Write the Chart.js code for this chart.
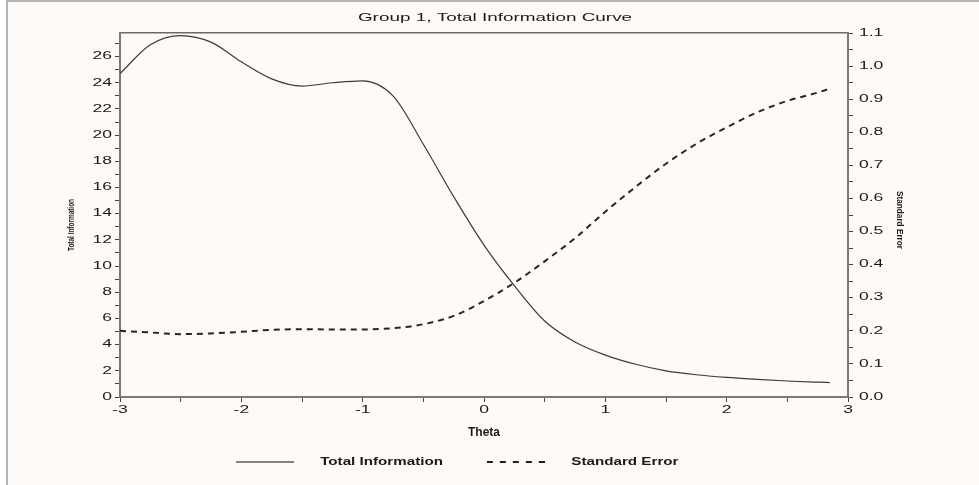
<!DOCTYPE html>
<html>
<head>
<meta charset="utf-8">
<script src="https://cdn.jsdelivr.net/npm/chart.js@4/dist/chart.umd.min.js"></script>
<style>
  html, body { margin: 0; padding: 0; background: #ffffff; }
  canvas { display: block; }
</style>
</head>
<body>
<canvas id="myChart" width="979" height="485"></canvas>
<script>
// Data
const theta = [-3, -2.75, -2.5, -2.25, -2, -1.75, -1.5, -1.25, -1, -0.75, -0.5, -0.25,
               0, 0.25, 0.5, 0.75, 1, 1.25, 1.5, 1.75, 2, 2.25, 2.5, 2.75, 2.85];
const totalInfo = [24.7, 26.9, 27.6, 27.1, 25.6, 24.3, 23.75, 24.0, 24.15, 23.0, 19.3, 15.3,
                   11.6, 8.5, 5.8, 4.2, 3.2, 2.5, 2.0, 1.7, 1.5, 1.35, 1.22, 1.13, 1.1];
const stdError = [0.200, 0.195, 0.190, 0.192, 0.197, 0.203, 0.205, 0.204, 0.204, 0.208, 0.220, 0.245,
                  0.290, 0.345, 0.410, 0.480, 0.560, 0.635, 0.705, 0.765, 0.815, 0.860, 0.895, 0.920, 0.932];
const seriesNames = ['Total Information', 'Standard Error'];
const chartTitle = 'Group 1, Total Information Curve';
const xTitle = 'Theta';
const xTicks = [-3, -2, -1, 0, 1, 2, 3];

// the original text is drawn wide, stretch glyphs per font size
const textStretch = { '10': 1.75, '10.5': 1.8, '11': 1.38, '12': 1 };

var chartArea = document.getElementById('myChart');
const ctx = chartArea.getContext('2d');
const rawFill = ctx.fillText.bind(ctx);
const rawMeasure = ctx.measureText.bind(ctx);
function stretchOf() {
    const m = /([\d.]+)px/.exec(ctx.font);
    return (m && textStretch[m[1]]) || 1;
}
ctx.fillText = function (text, x, y) {
    const sx = stretchOf();
    ctx.save();
    ctx.translate(x, y);
    ctx.scale(sx, 1);
    rawFill(text, 0, 0);
    ctx.restore();
};
ctx.measureText = function (text) {
    const m = rawMeasure(text);
    return {
        width: m.width * stretchOf(),
        actualBoundingBoxAscent: m.actualBoundingBoxAscent,
        actualBoundingBoxDescent: m.actualBoundingBoxDescent
    };
};

// legend line samples (Chart.js point-style legend ignores dashes)
function legendSample(dash, width, color) {
    const c = document.createElement('canvas');
    c.width = 58;
    c.height = 4;
    const g = c.getContext('2d');
    g.strokeStyle = color;
    g.lineWidth = width;
    g.setLineDash(dash);
    g.beginPath();
    g.moveTo(0, 2);
    g.lineTo(58, 2);
    g.stroke();
    return c;
}
const legendSamples = [legendSample([], 1.6, '#5a5a5a'), legendSample([6, 7], 2.2, '#1e1e1e')];

// legend labels get extra spaces so the gaps match the picture
const legendText = [
    '     ' + seriesNames[0] + '        ',
    '     ' + seriesNames[1] + '                  '
];

const pageDecor = {
    id: 'pageDecor',
    beforeDraw(chart) {
        const c = chart.ctx;
        c.save();
        c.fillStyle = '#ffffff';
        c.fillRect(0, 0, chart.width, chart.height);
        c.fillStyle = '#fdfaf8';
        c.fillRect(8, 2, chart.width - 8, chart.height - 2);
        c.strokeStyle = '#b4b4b4';
        c.lineWidth = 2;
        c.beginPath();
        c.moveTo(7, chart.height);
        c.lineTo(7, 1);
        c.lineTo(chart.width, 1);
        c.stroke();
        c.restore();
    },
    afterDraw(chart) {
        // the squeezed, rotated axis titles
        const c = chart.ctx;
        c.save();
        c.fillStyle = '#1a1a1a';
        c.font = 'bold 9px "Liberation Sans"';
        c.textAlign = 'center';
        c.textBaseline = 'middle';
        c.translate(71.5, 225);
        c.rotate(-Math.PI / 2);
        rawFill(seriesNames[0], 0, 0, 52);
        c.restore();
        c.save();
        c.fillStyle = '#1a1a1a';
        c.font = 'bold 9px "Liberation Sans"';
        c.textAlign = 'center';
        c.textBaseline = 'middle';
        c.translate(899.5, 220);
        c.rotate(Math.PI / 2);
        rawFill(seriesNames[1], 0, 0, 58);
        c.restore();
    }
};

const axisBorder = { display: true, color: '#7a7a7a', width: 2 };
const tickGrid = { display: true, drawOnChartArea: false, drawTicks: true, tickLength: 5, color: '#444444', lineWidth: 1 };

const chartContent = new Chart(chartArea, {
    type: 'line',
    data: {
        datasets: [
            {
                label: seriesNames[0],
                data: theta.map((t, i) => ({ x: t, y: totalInfo[i] })),
                yAxisID: 'y',
                borderColor: '#3c3c3c',
                borderWidth: 1.2,
                pointRadius: 0,
                cubicInterpolationMode: 'monotone',
                fill: false
            },
            {
                label: seriesNames[1],
                data: theta.map((t, i) => ({ x: t, y: stdError[i] })),
                yAxisID: 'y1',
                borderColor: '#262626',
                borderWidth: 2,
                borderDash: [6, 5],
                pointRadius: 0,
                cubicInterpolationMode: 'monotone',
                fill: false
            }
        ]
    },
    options: {
        responsive: false,
        animation: false,
        devicePixelRatio: 1,
        layout: { padding: { left: 11, right: 0, top: 0, bottom: 7.5 } },
        plugins: {
            title: {
                display: true,
                text: chartTitle,
                color: '#1a1a1a',
                font: { family: 'Liberation Sans', size: 10.5, weight: 'normal' },
                padding: { top: 12, bottom: 8.4 }
            },
            legend: {
                position: 'bottom',
                labels: {
                    usePointStyle: true,
                    pointStyleWidth: 58,
                    padding: 10,
                    color: '#1a1a1a',
                    font: { family: 'Liberation Sans', size: 11, weight: 'bold' },
                    generateLabels(chart) {
                        const items = Chart.defaults.plugins.legend.labels.generateLabels(chart);
                        items.forEach((it, i) => {
                            it.text = legendText[i];
                            it.pointStyle = legendSamples[i];
                        });
                        return items;
                    }
                }
            },
            tooltip: { enabled: false }
        },
        scales: {
            x: {
                type: 'linear',
                position: 'bottom',
                min: -3,
                max: 3,
                afterFit(s) { s.height = 49.5; },
                border: axisBorder,
                grid: tickGrid,
                ticks: {
                    stepSize: 0.5,
                    autoSkip: false,
                    maxRotation: 0,
                    padding: 2,
                    color: '#1a1a1a',
                    font: { family: 'Liberation Sans', size: 10 },
                    callback: (v) => (xTicks.includes(v) ? String(v) : '')
                },
                title: {
                    display: true,
                    text: xTitle,
                    color: '#1a1a1a',
                    font: { family: 'Liberation Sans', size: 12, weight: 'bold' },
                    padding: { top: 0, bottom: 6.5 }
                }
            },
            x2: {
                type: 'linear',
                position: 'top',
                min: -3,
                max: 3,
                afterFit(s) { s.height = 0; },
                border: { display: true, color: '#6a6a6a', width: 1.5 },
                grid: { display: true, drawOnChartArea: false, drawTicks: false },
                ticks: { display: false }
            },
            y: {
                type: 'linear',
                position: 'left',
                min: 0,
                max: 27.8,
                afterFit(s) { s.width = 109; },
                border: axisBorder,
                grid: tickGrid,
                ticks: {
                    stepSize: 1,
                    includeBounds: false,
                    autoSkip: false,
                    padding: 3,
                    color: '#1a1a1a',
                    font: { family: 'Liberation Sans', size: 10 },
                    callback: (v) => (v % 2 === 0 ? String(v) : '')
                }
            },
            y1: {
                type: 'linear',
                position: 'right',
                min: 0,
                max: 1.1,
                afterFit(s) { s.width = 131; },
                border: axisBorder,
                grid: tickGrid,
                ticks: {
                    stepSize: 0.05,
                    includeBounds: false,
                    autoSkip: false,
                    padding: 6,
                    color: '#1a1a1a',
                    font: { family: 'Liberation Sans', size: 10 },
                    callback: (v, i) => (i % 2 === 0 ? v.toFixed(1) : '')
                }
            }
        }
    },
    plugins: [pageDecor]
});
</script>
</body>
</html>
